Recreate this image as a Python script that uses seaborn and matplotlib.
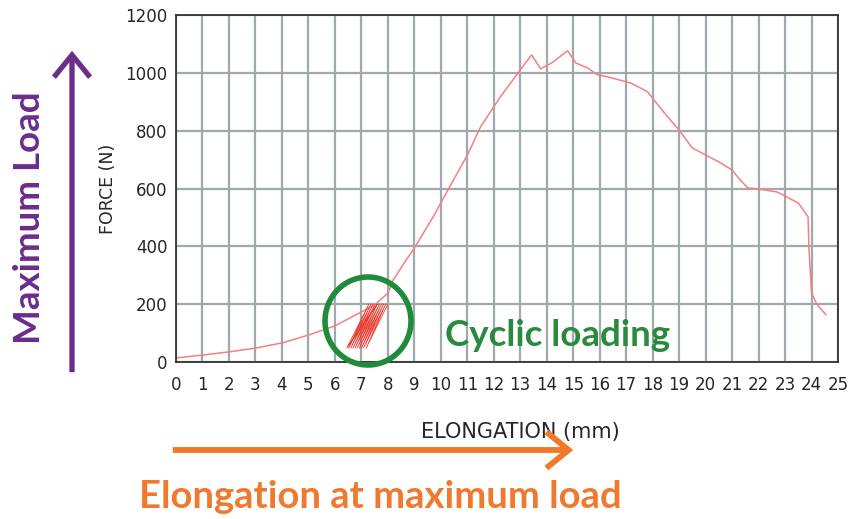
import matplotlib
matplotlib.use("Agg")
import matplotlib.pyplot as plt
import seaborn as sns
import pandas as pd
from matplotlib.patches import Ellipse, FancyArrowPatch
from matplotlib.ticker import MultipleLocator

# ---- data ----
elongation = [0, 1, 2, 3, 4, 5, 6, 7, 7.5, 8, 8.2, 8.6, 9, 9.7, 10.3, 11, 11.5, 12.25,
              13.0, 13.43, 13.77, 14.2, 14.79, 15.1, 15.54, 15.92, 16.3, 17.17, 17.8,
              18.5, 19, 19.5, 20, 20.5, 21, 21.3, 21.6, 22, 22.7, 23.5, 23.87, 23.9,
              24.0, 24.2, 24.55]
force = [14, 24, 35, 48, 66, 93, 125, 173, 197, 238, 283, 340, 394, 500, 600, 715, 813,
         917, 1010, 1062, 1014, 1035, 1076, 1034, 1017, 993, 986, 965, 935, 855, 802,
         740, 716, 692, 664, 630, 602, 598, 588, 550, 502, 398, 239, 200, 163]

cyc_elong = [7.6, 6.45, 7.28, 6.52, 7.36, 6.6, 7.44, 6.68, 7.52, 6.76, 7.6, 6.84,
             7.68, 6.92, 7.76, 7.0, 7.84, 7.08, 7.92, 7.18, 8.0]
cyc_force = [200, 48, 200, 48, 200, 48, 200, 48, 200, 48, 200, 48,
             200, 48, 200, 48, 200, 48, 200, 48, 200]

x_ticks = list(range(0, 26))
y_ticks = [0, 200, 400, 600, 800, 1000, 1200]

sns.set_style("white")
plt.rcParams['font.family'] = ['DejaVu Sans']

main = pd.DataFrame({"ELONGATION (mm)": elongation, "FORCE (N)": force})
cyc = pd.DataFrame({"ELONGATION (mm)": cyc_elong, "FORCE (N)": cyc_force})

fig = plt.figure(figsize=(8.61, 5.19), dpi=100)
ax = fig.add_axes([176/861, 1-362/519, 662/861, 347/519])

sns.lineplot(data=main, x="ELONGATION (mm)", y="FORCE (N)", sort=False,
             estimator=None, color="#f4817f", lw=1.1, ax=ax)
sns.lineplot(data=cyc, x="ELONGATION (mm)", y="FORCE (N)", sort=False,
             estimator=None, color="#ea3b30", lw=0.6, ax=ax)

ax.set_xlim(0, 25)
ax.set_ylim(0, 1200)
ax.set_xticks(x_ticks)
ax.set_xticklabels([str(t) for t in x_ticks])
ax.set_yticks(y_ticks)
ax.set_yticklabels([str(t) for t in y_ticks])
ax.xaxis.set_minor_locator(MultipleLocator(0.5))
ax.yaxis.set_minor_locator(MultipleLocator(100))
ax.grid(True, which="major", color="#a0a9ad", lw=1.6)
ax.set_axisbelow(True)
ax.tick_params(axis="both", which="major", direction="inout", length=8, width=1.2,
               color="#222222", labelsize=12)
ax.tick_params(axis="x", which="major", pad=6)
ax.tick_params(axis="y", which="major", pad=2)
ax.tick_params(axis="both", which="minor", direction="inout", length=6, width=1.0,
               color="#222222")
for s in ax.spines.values():
    s.set_color("#333333")
    s.set_linewidth(1.3)

ax.set_xlabel("ELONGATION (mm)", fontsize=15)
ax.set_ylabel("FORCE (N)", fontsize=12.5)
ax.xaxis.set_label_coords((520-176)/662, -(432-362)/347)
ax.xaxis.label.set_va("center")
ax.yaxis.set_label_coords((108-176)/662, 0.5)
ax.yaxis.label.set_va("center")

# green circle around cyclic loading
circ = Ellipse((368/861, 1-321/519), 86/861, 88/519, transform=fig.transFigure,
               fill=False, ec="#1f8b3b", lw=4)
fig.add_artist(circ)
fig.text(445/861, 1-336/519, "Cyclic loading", color="#2a8a3e", fontsize=26.5,
         fontweight="bold", family="Lato", va="center", ha="left")

# purple vertical arrow
fig.add_artist(FancyArrowPatch(
    (72/861, 1-375/519), (72/861, 1-48/519), transform=fig.transFigure,
    arrowstyle="->,head_length=0.8,head_width=0.65", mutation_scale=20,
    lw=3.8, color="#6b2c8c", capstyle="butt", joinstyle="miter"))
fig.text(30/861, 1-218/519, "Maximum Load", color="#6b2c8c", fontsize=26.5,
         fontweight="bold", family="Lato", rotation=90, va="center", ha="center")

# orange horizontal arrow
fig.add_artist(FancyArrowPatch(
    (170/861, 1-450/519), (576/861, 1-450/519), transform=fig.transFigure,
    arrowstyle="->,head_length=0.8,head_width=0.65", mutation_scale=20,
    lw=4.2, color="#f07a28", capstyle="butt", joinstyle="miter"))
fig.text(380/861, 1-497/519, "Elongation at maximum load", color="#ef7a2f",
         fontsize=27.5, fontweight="bold", family="Lato", va="center", ha="center")

fig.savefig("out.png", dpi=100)
